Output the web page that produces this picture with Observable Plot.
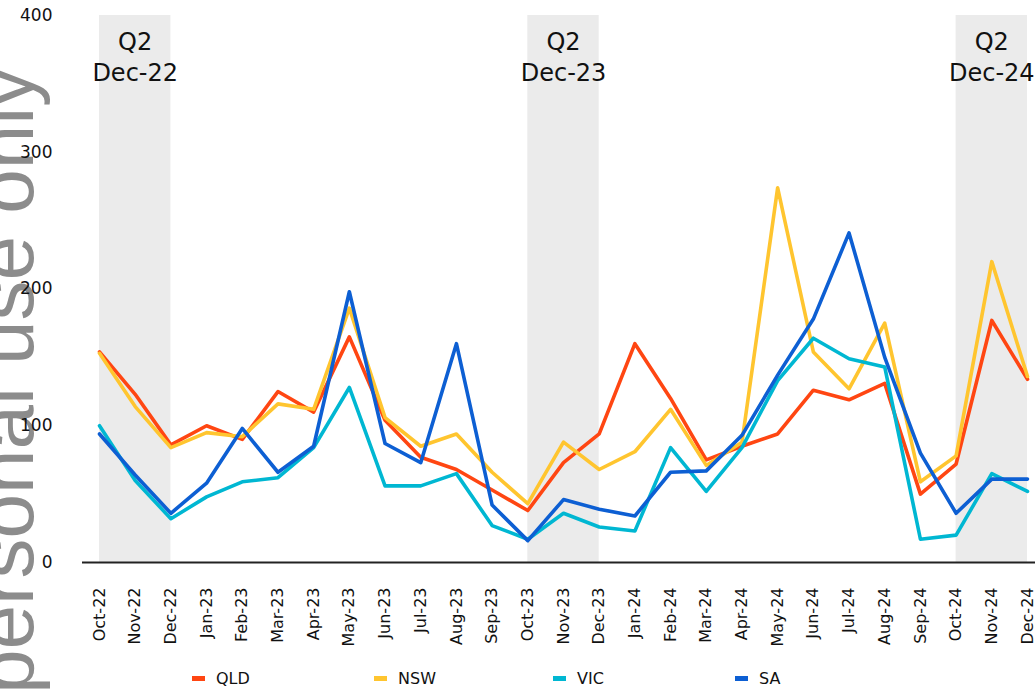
<!DOCTYPE html>
<html>
<head>
<meta charset="utf-8">
<script src="https://cdn.jsdelivr.net/npm/d3@7"></script>
<script src="https://cdn.jsdelivr.net/npm/@observablehq/plot@0.6"></script>
<style>
  html, body { margin: 0; padding: 0; background: #fff; }
  #wrap { position: relative; width: 1035px; height: 691px; overflow: hidden; }
  #legend { position: relative; width: 1035px; height: 29px; font-family: "DejaVu Sans", sans-serif; font-size: 16px; color: #111; }
  .item { position: absolute; top: 2px; height: 29px; display: flex; align-items: center; }
  .swatch { width: 13px; height: 5px; margin-right: 11px; }
</style>
</head>
<body>
<div id="wrap"></div>
<script>
// Monthly series by state, Oct-22 to Dec-24
const months = ["Oct-22","Nov-22","Dec-22","Jan-23","Feb-23","Mar-23","Apr-23","May-23","Jun-23","Jul-23","Aug-23","Sep-23","Oct-23","Nov-23","Dec-23","Jan-24","Feb-24","Mar-24","Apr-24","May-24","Jun-24","Jul-24","Aug-24","Sep-24","Oct-24","Nov-24","Dec-24"];
const qld = [154, 123, 86, 100, 90, 125, 110, 165, 104, 77, 68, 53, 38, 73, 94, 160, 120, 75, 85, 94, 126, 119, 131, 50, 72, 177, 134];
const nsw = [153, 114, 84, 95, 92, 116, 112, 186, 106, 85, 94, 66, 43, 88, 68, 81, 112, 71, 88, 274, 154, 127, 175, 59, 78, 220, 136];
const vic = [100, 60, 32, 48, 59, 62, 84, 128, 56, 56, 65, 27, 17, 36, 26, 23, 84, 52, 84, 133, 164, 149, 143, 17, 20, 65, 52];
const sa  = [94, 64, 36, 58, 98, 66, 85, 198, 87, 73, 160, 42, 16, 46, 39, 34, 66, 67, 93, 137, 178, 241, 150, 80, 36, 61, 61];

const seriesNames = ["QLD", "NSW", "VIC", "SA"];
const seriesColors = ["#ff4612", "#ffc52f", "#00b7d2", "#0d5fd3"];
const yTicks = [0, 100, 200, 300, 400];

// Shaded quarters (Q2 of each financial year)
const quarterName = "Q2";
const quarterFrom = ["Oct-22", "Oct-23", "Oct-24"];
const quarterTo = ["Dec-22", "Dec-23", "Dec-24"];

const watermark = "personal use only";

const seriesValues = [qld, nsw, vic, sa];
const rows = seriesNames.flatMap((name, k) =>
  seriesValues[k].map((v, i) => ({state: name, i, v}))
);
const quarters = quarterFrom.map((from, k) => ({
  i1: months.indexOf(from),
  i2: months.indexOf(quarterTo[k]),
  label: `${quarterName}\n${quarterTo[k]}`
}));

const chart = Plot.plot({
  width: 1035,
  height: 662,
  marginTop: 15,
  marginBottom: 100,
  marginLeft: 82,
  marginRight: 0,
  style: {fontFamily: "DejaVu Sans, sans-serif", fontSize: "16px", color: "#111", background: "transparent", overflow: "visible"},
  x: {domain: [0, months.length - 1], range: [99, 1027]},
  y: {domain: [0, 400]},
  color: {domain: seriesNames, range: seriesColors},
  marks: [
    Plot.rect(quarters, {x1: "i1", x2: "i2", y1: 0, y2: 400, fill: "#ebebeb"}),
    Plot.text(quarters, {
      x: d => (d.i1 + d.i2) / 2, text: "label",
      frameAnchor: "top", lineAnchor: "top", dy: 13,
      fontSize: 24, lineHeight: 1.29, fill: "#111"
    }),
    Plot.axisY({ticks: yTicks, tickSize: 0, tickPadding: 30, fontSize: 17, label: null}),
    Plot.axisX({
      ticks: d3.range(months.length), tickFormat: i => months[i],
      tickRotate: -90, tickSize: 0, tickPadding: 25, fontSize: 16, label: null
    }),
    Plot.line(rows, {x: "i", y: "v", z: "state", stroke: "state", strokeWidth: 3.6}),
    Plot.ruleY([0], {stroke: "#222", strokeWidth: 2})
  ]
});

// Rotated watermark behind the chart
d3.select(chart).insert("text", ":first-child")
  .attr("transform", "translate(33,694) rotate(-90)")
  .attr("text-anchor", "start")
  .attr("font-family", "Liberation Sans, Arial, sans-serif")
  .attr("font-size", 80)
  .attr("fill", "#8c8c8c")
  .text(watermark);

const wrap = document.getElementById("wrap");
wrap.appendChild(chart);

// Legend below the plot
const legend = document.createElement("div");
legend.id = "legend";
const legendLeft = [192, 374, 553, 735];
seriesNames.forEach((name, k) => {
  const item = document.createElement("div");
  item.className = "item";
  item.style.left = legendLeft[k] + "px";
  const sw = document.createElement("span");
  sw.className = "swatch";
  sw.style.background = seriesColors[k];
  const label = document.createElement("span");
  label.textContent = name;
  item.appendChild(sw);
  item.appendChild(label);
  legend.appendChild(item);
});
wrap.appendChild(legend);
</script>
</body>
</html>
